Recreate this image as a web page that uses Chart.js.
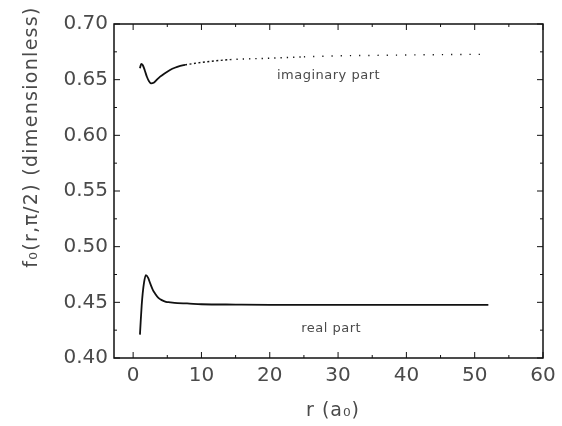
<!DOCTYPE html>
<html lang="en">
<head>
  <meta charset="UTF-8">
  <title>f0(r, pi/2)</title>
  <script src="https://cdn.jsdelivr.net/npm/chart.js@4.4.0/dist/chart.umd.min.js"></script>
  <style>
    body { margin: 0; background: #fff; }
  </style>
</head>
<body>
  <canvas id="chart" width="562" height="426"></canvas>
  <script>

// radius in Bohr radii
const realR   = [1.0, 1.1, 1.25, 1.4, 1.6, 1.86, 2.2, 2.5, 2.9, 3.2, 3.7, 4.2, 4.8, 5.4, 6.5, 7.9, 10, 15, 20, 30, 40, 52];
const realF   = [0.421, 0.432, 0.447, 0.458, 0.468, 0.4745, 0.472, 0.467, 0.461, 0.458, 0.454, 0.452, 0.4505, 0.450, 0.4493, 0.449, 0.4483, 0.448, 0.4478, 0.4477, 0.4477, 0.4477];

const imagR   = [1.0, 1.1, 1.2, 1.4, 1.7, 2.0, 2.3, 2.63, 3.0, 3.4, 3.95, 4.6, 5.4, 6.1, 6.9, 7.6, 8.3, 10.8, 14.2, 19.6, 25, 29.3, 35, 42, 51.8];
const imagF   = [0.6602, 0.6628, 0.6642, 0.6632, 0.6585, 0.6528, 0.6488, 0.6467, 0.6472, 0.6495, 0.6527, 0.6556, 0.6587, 0.6607, 0.6623, 0.6633, 0.664, 0.6661, 0.668, 0.6692, 0.6705, 0.6713, 0.6718, 0.6723, 0.6728];

const xTicks  = [0, 10, 20, 30, 40, 50, 60];
const yTicks  = [0.40, 0.45, 0.50, 0.55, 0.60, 0.65, 0.70];

const ink = '#111';
const textColor = '#4a4a4a';
const fontFamily = '"DejaVu Sans", sans-serif';

function toPoints(xs, ys) {
  return xs.map((x, i) => ({ x: x, y: ys[i] }));
}

// box frame, inward ticks on all sides, titles and curve labels
const framePlugin = {
  id: 'frame',
  afterDraw(chart) {
    const { ctx, chartArea: a, scales: { x, y } } = chart;
    ctx.save();
    ctx.strokeStyle = ink;
    ctx.lineWidth = 1.5;
    ctx.strokeRect(a.left, a.top, a.right - a.left, a.bottom - a.top);

    ctx.lineWidth = 1;
    for (let v = 0; v <= 60; v += 5) {
      const px = x.getPixelForValue(v);
      const len = v % 10 === 0 ? 6 : 3;
      ctx.beginPath();
      ctx.moveTo(px, a.bottom); ctx.lineTo(px, a.bottom - len);
      ctx.moveTo(px, a.top); ctx.lineTo(px, a.top + len);
      ctx.stroke();
    }
    for (let k = 0; k <= 12; k++) {
      const v = 0.40 + k * 0.025;
      const py = y.getPixelForValue(v);
      const len = k % 2 === 0 ? 6 : 3;
      ctx.beginPath();
      ctx.moveTo(a.left, py); ctx.lineTo(a.left + len, py);
      ctx.moveTo(a.right, py); ctx.lineTo(a.right - len, py);
      ctx.stroke();
    }

    ctx.fillStyle = textColor;
    ctx.textAlign = 'center';
    ctx.textBaseline = 'middle';

    ctx.font = '13px ' + fontFamily;
    ctx.letterSpacing = '0.5px';
    ctx.fillText('imaginary part', x.getPixelForValue(28.6), y.getPixelForValue(0.6532));
    ctx.fillText('real part', x.getPixelForValue(29), y.getPixelForValue(0.4265));

    ctx.font = '19px ' + fontFamily;
    ctx.letterSpacing = '1px';
    ctx.fillText('r (a\u2080)', 333, 411);

    ctx.letterSpacing = '1.3px';
    ctx.translate(32, 137);
    ctx.rotate(-Math.PI / 2);
    ctx.fillText('f\u2080(r,\u03c0/2) (dimensionless)', 0, 0);
    ctx.restore();
  }
};

const chart = new Chart(document.getElementById('chart').getContext('2d'), {
  type: 'line',
  data: {
    datasets: [
      {
        label: 'real part',
        data: toPoints(realR, realF),
        borderColor: ink,
        borderWidth: 1.8,
        pointRadius: 0,
        cubicInterpolationMode: 'monotone'
      },
      {
        label: 'imaginary part',
        data: toPoints(imagR, imagF),
        borderColor: ink,
        borderWidth: 1.8,
        pointRadius: 0,
        cubicInterpolationMode: 'monotone',
        segment: {
          // the tail is plotted as sparse dots that spread out with r
          borderDash: c => {
            const r = c.p0.parsed.x;
            if (r < 7.6) return undefined;
            if (r < 14) return [2, 2.5];
            if (r < 25) return [1.3, 5];
            return [1.2, 8];
          },
          borderWidth: c => c.p0.parsed.x < 7.6 ? 1.8 : 1.4
        }
      }
    ]
  },
  options: {
    responsive: false,
    animation: false,
    layout: { padding: { left: 0, right: 19, top: 24, bottom: 0 } },
    plugins: {
      legend: { display: false },
      tooltip: { enabled: false }
    },
    scales: {
      x: {
        type: 'linear',
        min: -2.8,
        max: 60,
        afterBuildTicks: s => { s.ticks = xTicks.map(v => ({ value: v })); },
        afterFit: s => { s.height = 68; },
        grid: { display: false, drawTicks: false },
        border: { display: false },
        ticks: {
          padding: 6,
          color: textColor,
          font: { family: fontFamily, size: 20 },
          maxRotation: 0
        }
      },
      y: {
        type: 'linear',
        min: 0.40,
        max: 0.70,
        afterBuildTicks: s => { s.ticks = yTicks.map(v => ({ value: v })); },
        afterFit: s => { s.width = 114; },
        grid: { display: false, drawTicks: false },
        border: { display: false },
        ticks: {
          padding: 6,
          color: textColor,
          font: { family: fontFamily, size: 20 },
          callback: v => v.toFixed(2)
        }
      }
    }
  },
  plugins: [framePlugin]
});
  </script>
</body>
</html>
